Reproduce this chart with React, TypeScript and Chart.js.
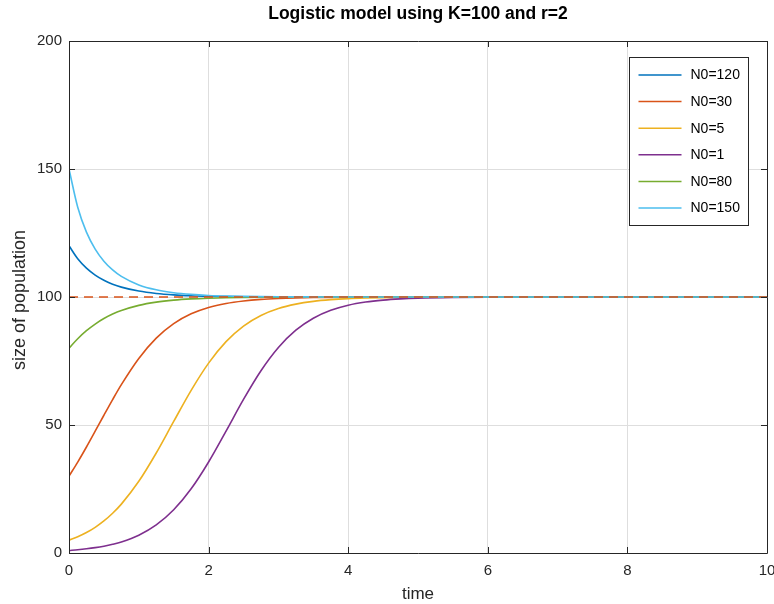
import React, { useEffect, useRef } from "react";
import { Chart, registerables } from "chart.js";

Chart.register(...registerables);

// time samples (x values)
const time = [0, 0.125, 0.25, 0.375, 0.5, 0.625, 0.75, 1, 1.25, 1.5, 1.75, 2, 2.25, 2.5, 2.75, 3, 3.25, 3.5, 3.75, 4, 4.25, 4.5, 4.75, 5, 5.5, 6, 7, 8, 9, 10];

// population values
const popN120 = [120, 114.92, 111.25, 108.55, 106.53, 105.01, 103.86, 102.31, 101.39, 100.84, 100.51, 100.31, 100.19, 100.11, 100.07, 100.04, 100.02, 100.015, 100.01, 100.006, 100, 100, 100, 100, 100, 100, 100, 100, 100, 100];
const popN30 = [30, 35.5, 41.4, 47.57, 53.81, 59.93, 65.76, 76.0, 83.93, 89.59, 93.42, 95.9, 97.47, 98.45, 99.06, 99.42, 99.65, 99.79, 99.87, 99.92, 99.95, 99.97, 99.98, 99.99, 100, 100, 100, 100, 100, 100];
const popN5 = [5, 6.33, 7.98, 10.03, 12.52, 15.52, 19.09, 28.0, 39.07, 51.39, 63.54, 74.18, 82.57, 88.65, 92.79, 95.5, 97.22, 98.3, 98.96, 99.37, 99.61, 99.77, 99.86, 99.91, 99.97, 99.99, 100, 100, 100, 100];
const popN1 = [1, 1.28, 1.64, 2.09, 2.67, 3.41, 4.33, 6.95, 10.96, 16.87, 25.07, 35.55, 47.62, 59.99, 71.2, 80.3, 87.04, 91.72, 94.81, 96.79, 98.03, 98.79, 99.26, 99.55, 99.83, 99.94, 99.99, 100, 100, 100];
const popN80 = [80, 83.7, 86.83, 89.44, 91.58, 93.32, 94.72, 96.73, 97.99, 98.77, 99.25, 99.54, 99.72, 99.83, 99.9, 99.94, 99.96, 99.98, 99.99, 99.99, 100, 100, 100, 100, 100, 100, 100, 100, 100, 100];
const popN150 = [150, 135.06, 125.34, 118.69, 113.98, 110.56, 108.04, 104.72, 102.81, 101.69, 101.02, 100.61, 100.37, 100.23, 100.14, 100.08, 100.05, 100.03, 100.02, 100.01, 100, 100, 100, 100, 100, 100, 100, 100, 100, 100];

const seriesLabels = ["N0=120", "N0=30", "N0=5", "N0=1", "N0=80", "N0=150"];
const seriesValues = [popN120, popN30, popN5, popN1, popN80, popN150];
const seriesColors = ["#0072BD", "#D95319", "#EDB120", "#7E2F8E", "#77AC30", "#4DBEEE"];

// carrying capacity line
const capacityX = [0, 10];
const capacityY = [100, 100];

const xTicks = [0, 2, 4, 6, 8, 10];
const yTicks = [0, 50, 100, 150, 200];

const titleText = "Logistic model using K=100 and r=2";
const xTitle = "time";
const yTitle = "size of population";

const FONT = "'Liberation Sans', Arial, Helvetica, sans-serif";
const INK = "#262626";

const decorPlugin = {
  id: "decor",
  afterDraw(chart: any) {
    const { ctx, chartArea: ca, scales } = chart;
    const xs = scales.x;
    const ys = scales.y;
    ctx.save();
    // axes box
    ctx.strokeStyle = INK;
    ctx.lineWidth = 1;
    ctx.beginPath();
    ctx.rect(Math.round(ca.left) + 0.5, Math.round(ca.top) + 0.5, Math.round(ca.right - ca.left), Math.round(ca.bottom - ca.top));
    ctx.stroke();
    // inward ticks
    const tl = 6;
    ctx.beginPath();
    xTicks.forEach((v) => {
      const px = Math.round(xs.getPixelForValue(v)) + 0.5;
      ctx.moveTo(px, ca.bottom);
      ctx.lineTo(px, ca.bottom - tl);
      ctx.moveTo(px, ca.top);
      ctx.lineTo(px, ca.top + tl);
    });
    yTicks.forEach((v) => {
      const py = Math.round(ys.getPixelForValue(v)) + 0.5;
      ctx.moveTo(ca.left, py);
      ctx.lineTo(ca.left + tl, py);
      ctx.moveTo(ca.right, py);
      ctx.lineTo(ca.right - tl, py);
    });
    ctx.stroke();

    // legend
    const lw = 119;
    const lh = 168;
    const lx = Math.round(ca.right - 19 - lw) + 0.5;
    const ly = Math.round(ca.top + 16) + 0.5;
    ctx.fillStyle = "#ffffff";
    ctx.fillRect(lx, ly, lw, lh);
    ctx.strokeStyle = INK;
    ctx.strokeRect(lx, ly, lw, lh);
    ctx.font = `14px ${FONT}`;
    ctx.textBaseline = "middle";
    ctx.textAlign = "left";
    seriesLabels.forEach((lab, i) => {
      const y = ly + 17.5 + i * 26.6;
      ctx.strokeStyle = seriesColors[i];
      ctx.lineWidth = 1.5;
      ctx.beginPath();
      ctx.moveTo(lx + 9, y);
      ctx.lineTo(lx + 52, y);
      ctx.stroke();
      ctx.fillStyle = "#000000";
      ctx.fillText(lab, lx + 61, y + 0.5);
    });

    // titles
    const cx = (ca.left + ca.right) / 2;
    ctx.fillStyle = "#000000";
    ctx.font = `bold 17.5px ${FONT}`;
    ctx.textAlign = "center";
    ctx.textBaseline = "middle";
    ctx.fillText(titleText, cx, 14);
    ctx.fillStyle = INK;
    ctx.font = `17px ${FONT}`;
    ctx.fillText(xTitle, cx, 594);
    ctx.save();
    ctx.translate(20, 300);
    ctx.rotate(-Math.PI / 2);
    ctx.font = `18px ${FONT}`;
    ctx.fillText(yTitle, 0, 0);
    ctx.restore();
    ctx.restore();
  },
};

export default function App() {
  const ref = useRef<HTMLCanvasElement | null>(null);
  useEffect(() => {
    document.body.style.margin = "0";
    const canvas = ref.current;
    if (!canvas) return;
    const datasets: any[] = seriesLabels.map((lab, i) => ({
      label: lab,
      data: time.map((t, j) => ({ x: t, y: seriesValues[i][j] })),
      borderColor: seriesColors[i],
      backgroundColor: seriesColors[i],
      borderWidth: 1.6,
      pointRadius: 0,
      cubicInterpolationMode: "monotone",
      fill: false,
      order: 10 - i,
    }));
    datasets.push({
      label: "K",
      data: capacityX.map((x, j) => ({ x, y: capacityY[j] })),
      borderColor: "#D95319",
      borderWidth: 1.6,
      borderDash: [9, 6],
      pointRadius: 0,
      fill: false,
      order: 0,
    });
    const chart = new Chart(canvas, {
      type: "line",
      data: { datasets },
      options: {
        animation: false,
        responsive: false,
        maintainAspectRatio: false,
        layout: { padding: { top: 41, right: 7, left: 0, bottom: 0 } },
        plugins: {
          legend: { display: false },
          title: { display: false },
          tooltip: { enabled: false },
        },
        scales: {
          x: {
            type: "linear",
            min: 0,
            max: 10,
            afterFit: (s: any) => {
              s.height = 51;
              s.paddingLeft = 0;
              s.paddingRight = 0;
            },
            afterBuildTicks: (s: any) => {
              s.ticks = xTicks.map((v) => ({ value: v }));
            },
            grid: { color: "#dedede", drawTicks: false, lineWidth: 1 },
            border: { display: false },
            ticks: {
              color: INK,
              padding: 9,
              font: { family: FONT, size: 15 },
              maxRotation: 0,
              autoSkip: false,
            },
          },
          y: {
            type: "linear",
            min: 0,
            max: 200,
            afterFit: (s: any) => {
              s.width = 69;
              s.paddingTop = 0;
              s.paddingBottom = 0;
            },
            afterBuildTicks: (s: any) => {
              s.ticks = yTicks.map((v) => ({ value: v }));
            },
            grid: { color: "#dedede", drawTicks: false, lineWidth: 1 },
            border: { display: false },
            ticks: {
              color: INK,
              padding: 7,
              font: { family: FONT, size: 15 },
              autoSkip: false,
            },
          },
        },
      },
      plugins: [decorPlugin],
    });
    return () => chart.destroy();
  }, []);
  return <canvas ref={ref} width={774} height={604} style={{ display: "block" }} />;
}
